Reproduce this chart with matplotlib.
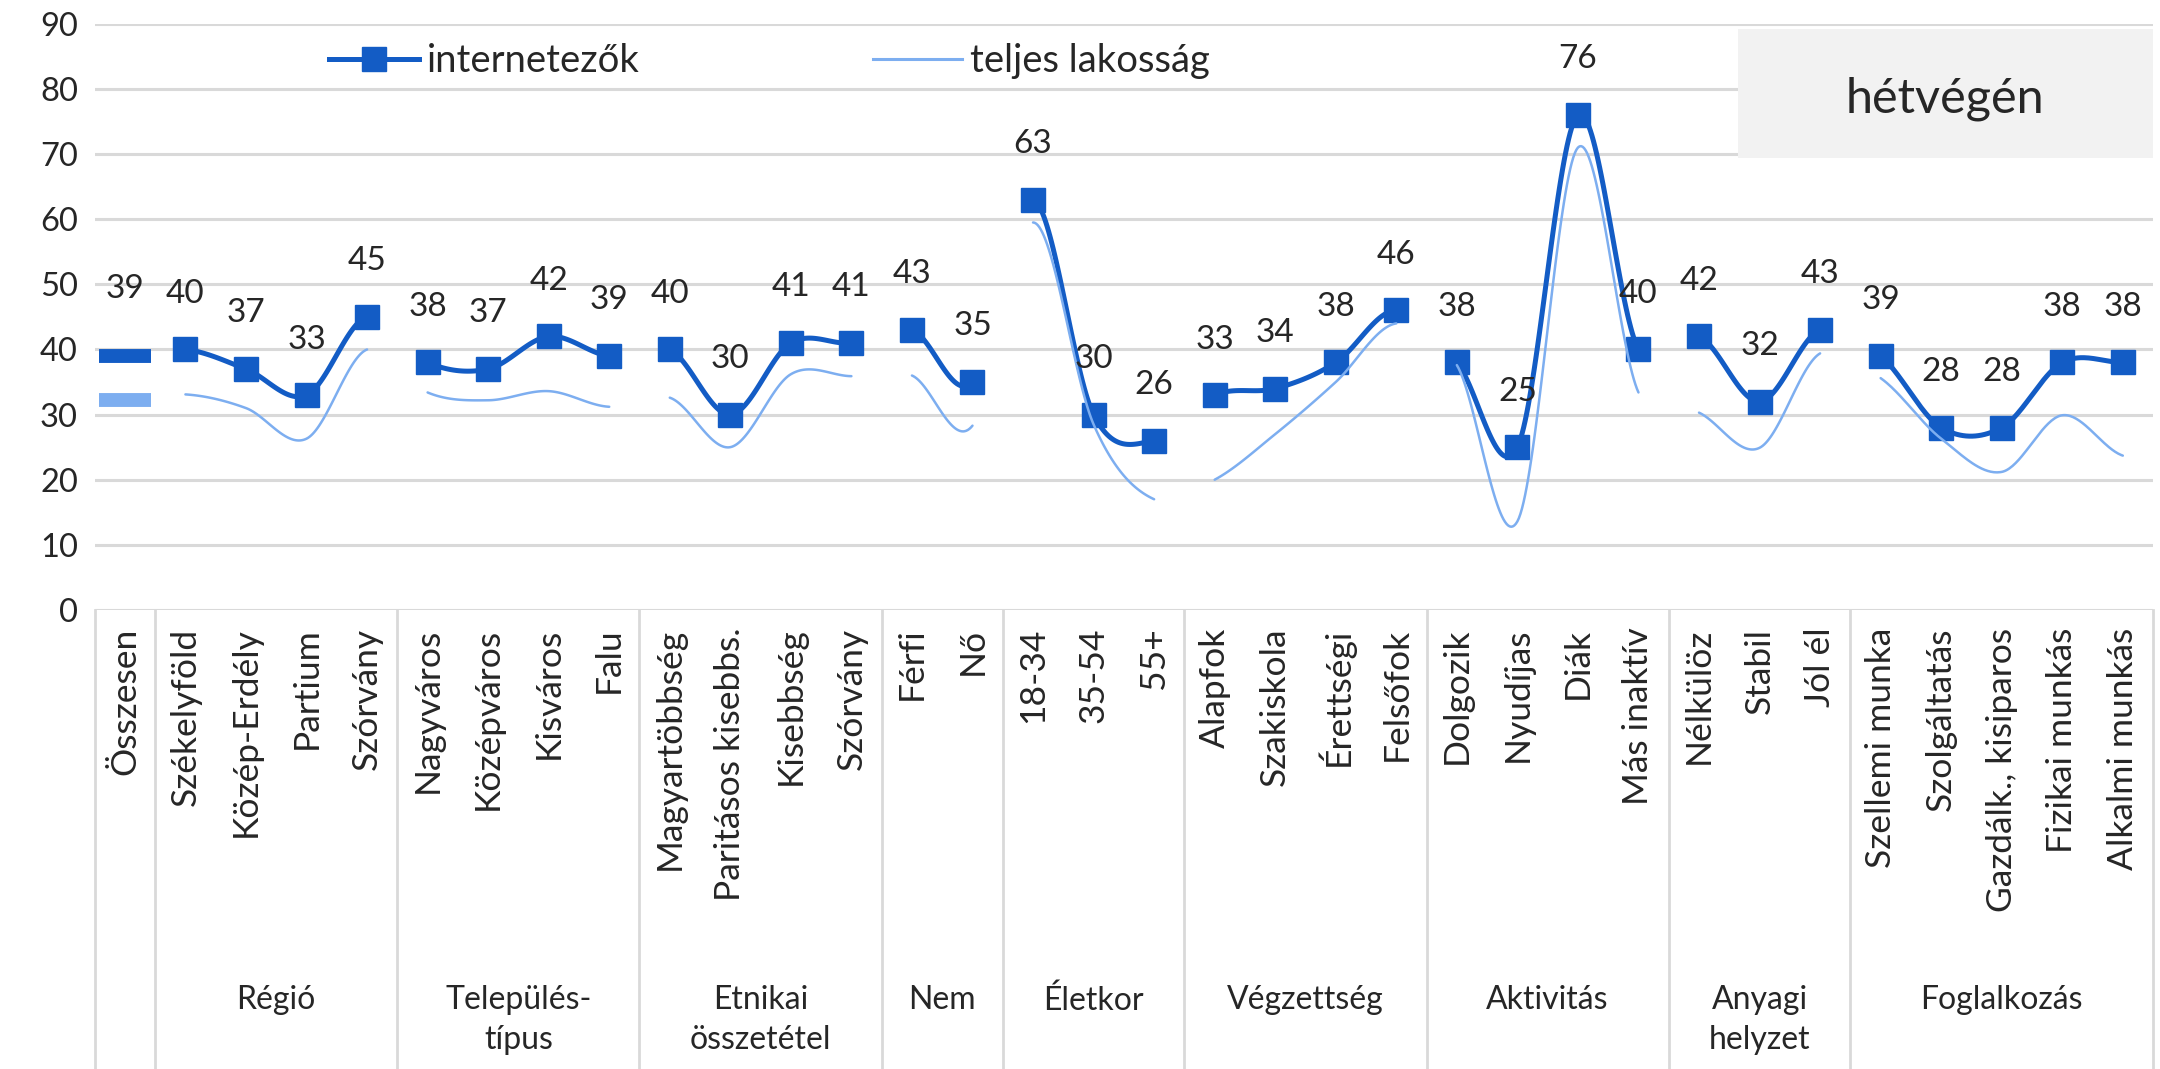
import matplotlib
matplotlib.use("Agg")
import matplotlib.pyplot as plt
import numpy as np
from matplotlib.lines import Line2D
from matplotlib.patches import Rectangle

plt.rcParams["font.family"] = ["Lato", "DejaVu Sans"]

# ---- data -------------------------------------------------------------
groups = ["", "Régió", "Település-\ntípus", "Etnikai\nösszetétel", "Nem",
          "Életkor", "Végzettség", "Aktivitás", "Anyagi\nhelyzet", "Foglalkozás"]

categories = [
    ["Összesen"],
    ["Székelyföld", "Közép-Erdély", "Partium", "Szórvány"],
    ["Nagyváros", "Középváros", "Kisváros", "Falu"],
    ["Magyartöbbség", "Paritásos kisebbs.", "Kisebbség", "Szórvány"],
    ["Férfi", "Nő"],
    ["18-34", "35-54", "55+"],
    ["Alapfok", "Szakiskola", "Érettségi", "Felsőfok"],
    ["Dolgozik", "Nyudíjas", "Diák", "Más inaktív"],
    ["Nélkülöz", "Stabil", "Jól él"],
    ["Szellemi munka", "Szolgáltatás", "Gazdálk., kisiparos", "Fizikai munkás", "Alkalmi munkás"],
]

internetezok = [
    [39],
    [40, 37, 33, 45],
    [38, 37, 42, 39],
    [40, 30, 41, 41],
    [43, 35],
    [63, 30, 26],
    [33, 34, 38, 46],
    [38, 25, 76, 40],
    [42, 32, 43],
    [39, 28, 28, 38, 38],
]

teljes_lakossag = [
    [32.2],
    [33.1, 31.0, 26.3, 40.0],
    [33.4, 32.2, 33.6, 31.2],
    [32.6, 25.0, 36.2, 35.9],
    [36.0, 28.3],
    [59.5, 28.5, 17.0],
    [20.0, 27.0, 35.0, 44.0],
    [37.6, 13.6, 71.0, 33.4],
    [30.3, 24.9, 39.4],
    [35.6, 26.3, 21.2, 29.9, 23.7],
]

DARK = "#135CC5"
LIGHT = "#7DAEF0"
GRID = "#D9D9D9"
TEXT = "#262626"


def flatten(nested):
    return [v for sub in nested for v in sub]


def smooth_groups(values, group_ids, steps=40):
    """Excel-like smoothed line; segments between groups are hidden."""
    vals = np.asarray(values, dtype=float)
    n = len(vals)
    t = np.linspace(0, 1, steps)
    curves = {}
    for i in range(n - 1):
        if group_ids[i] != group_ids[i + 1]:
            continue
        p0 = vals[max(i - 1, 0)]
        p1, p2 = vals[i], vals[i + 1]
        p3 = vals[min(i + 2, n - 1)]
        c1 = p1 + (p2 - p0) / 6
        c2 = p2 - (p3 - p1) / 6
        y = ((1 - t) ** 3 * p1 + 3 * (1 - t) ** 2 * t * c1
             + 3 * (1 - t) * t ** 2 * c2 + t ** 3 * p2)
        xs, ys = curves.setdefault(group_ids[i], ([], []))
        xs.extend(i + t)
        ys.extend(y)
    return curves


cats = flatten(categories)
dark = flatten(internetezok)
light = flatten(teljes_lakossag)
group_ids = [g for g, sub in enumerate(categories) for _ in sub]
x = np.arange(len(cats))

fig = plt.figure(figsize=(21.6, 10.69), dpi=100)
ax = fig.add_axes([0.0438, 0.4294, 0.953, 0.5483])
ax.set_xlim(-0.5, len(cats) - 0.5)
ax.set_ylim(0, 90)
ax.set_yticks(np.arange(0, 91, 10))
ax.yaxis.grid(True, color=GRID, linewidth=2.2)
ax.set_axisbelow(True)
ax.set_xticks([])
for s in ax.spines.values():
    s.set_visible(False)
ax.tick_params(axis="y", length=0, pad=12, labelsize=23.5, labelcolor=TEXT)

# lines
for gx, gy in smooth_groups(dark, group_ids).values():
    ax.plot(gx, gy, color=DARK, lw=3.6, zorder=3, solid_capstyle="round")
for gx, gy in smooth_groups(light, group_ids).values():
    ax.plot(gx, gy, color=LIGHT, lw=1.8, zorder=5, solid_capstyle="round")

ax.plot(x[1:], dark[1:], ls="none", marker="s", ms=17, color=DARK, zorder=4)
ax.plot(x[:1], dark[:1], ls="none", marker="_", ms=38, mew=10, color=DARK, zorder=4)
ax.plot(x[:1], light[:1], ls="none", marker="_", ms=38, mew=10, color=LIGHT, zorder=4)

for xi, v in zip(x, dark):
    off = 48 if xi == 0 else 40
    ax.annotate(f"{v:.0f}", (xi, v), xytext=(0, off), textcoords="offset points",
                ha="center", va="center", fontsize=24, color=TEXT, zorder=6)

# category axis
trans = ax.get_xaxis_transform()
for xi, c in zip(x, cats):
    ax.text(xi, -0.03, c, transform=trans, rotation=90, ha="center", va="top",
            fontsize=25.5, color=TEXT)

bounds = [-0.5]
pos = -0.5
for sub in categories:
    pos += len(sub)
    bounds.append(pos)
for b in bounds:
    ax.add_line(Line2D([b, b], [0, -0.785], transform=trans, color=GRID,
                       lw=2, clip_on=False))

for g, sub in enumerate(categories):
    if not groups[g]:
        continue
    start = bounds[g]
    center = start + len(sub) / 2
    ax.text(center, -0.64, groups[g], transform=trans, ha="center", va="top",
            fontsize=23, color=TEXT, linespacing=1.4)

# legend
handles = [
    Line2D([], [], color=DARK, lw=3.6, marker="s", ms=17),
    Line2D([], [], color=LIGHT, lw=2.2),
]
ax.legend(handles, ["internetezők", "teljes lakosság"], ncol=2, frameon=False,
          loc="center left", bbox_to_anchor=(0.114, 0.936), borderpad=0,
          borderaxespad=0, handlelength=2.35, handletextpad=0.2,
          columnspacing=6.1, fontsize=27.5, labelcolor=TEXT)

# box
ax.add_patch(Rectangle((0.7984, 0.7706), 0.2016, 0.2214, transform=ax.transAxes,
                       facecolor="#F2F2F2", edgecolor="none", zorder=2))
ax.text(0.899, 0.873, "hétvégén", transform=ax.transAxes, ha="center",
        va="center", fontsize=35, color=TEXT, zorder=3)

fig.savefig("out.png", dpi=100)
